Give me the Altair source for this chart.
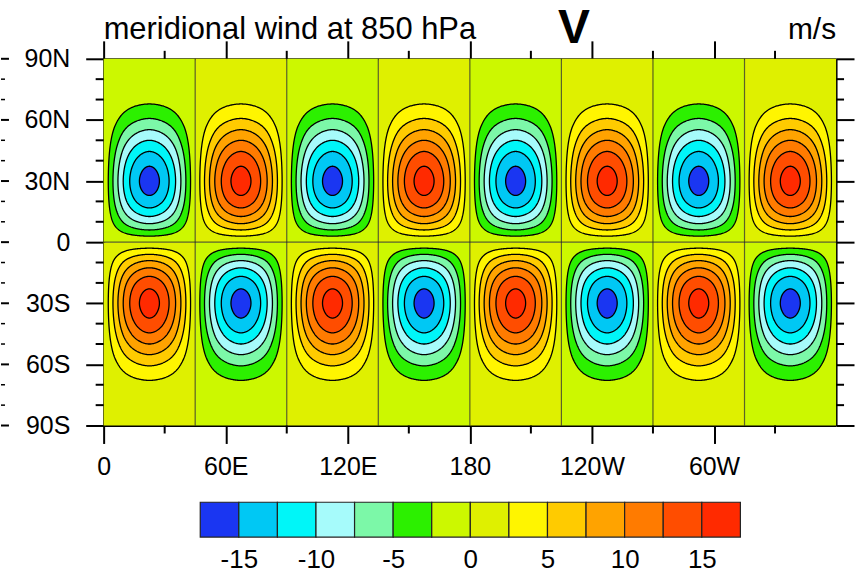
import numpy as np
import pandas as pd
import altair as alt

FONT = "Liberation Sans"

# Contour levels (m/s) and the 14 fill colours between them
levels = [-15, -12.5, -10, -7.5, -5, -2.5, 0, 2.5, 5, 7.5, 10, 12.5, 15]
band_colors = ["#1a36f2", "#00c8f4", "#00f6f8", "#a6fbfb", "#7cf8a8", "#2cf000",
               "#ccf800", "#dff000", "#fff500", "#ffcb00", "#ffa300", "#ff7b00",
               "#ff4d00", "#ff2a00"]

# |v| along the centre line of a cell (m/s), equator to pole every 5 degrees
profile_lat = [0, 5, 10, 15, 20, 25, 30, 35, 40, 45, 50, 55, 60, 65, 70, 75, 80, 85, 90]
profile_v = [0.0, 4.2, 8.2, 11.5, 14.0, 15.5, 16.0, 15.5, 14.2, 12.3, 10.0,
             7.6, 5.3, 3.4, 1.9, 0.8, 0.25, 0.03, 0.0]

# relative amplitude across one 45-degree column
cell_lon = [0, 5.625, 11.25, 16.875, 22.5, 28.125, 33.75, 39.375, 45]
cell_shape = [0.0, 0.38, 0.71, 0.92, 1.0, 0.92, 0.71, 0.38, 0.0]

# sign of v in each column of the northern hemisphere (reversed in the south)
north_sign = [-1, 1, -1, 1, -1, 1, -1, 1]

lat_ticks = [-90, -60, -30, 0, 30, 60, 90]
lat_minor = [-80, -70, -50, -40, -20, -10, 10, 20, 40, 50, 70, 80]
lon_ticks = [0, 60, 120, 180, 240, 300]
lon_minor = [30, 90, 150, 210, 270, 330]
cbar_labels = [-15, -10, -5, 0, 5, 10, 15]


def spline(xs, ys, xq, lo_pad, hi_pad):
    """Catmull-Rom curve through evenly spaced samples."""
    xs = np.asarray(xs, float)
    yy = np.concatenate([[lo_pad], np.asarray(ys, float), [hi_pad]])
    h = xs[1] - xs[0]
    s = (np.asarray(xq, float) - xs[0]) / h
    i = np.clip(np.floor(s).astype(int), 0, len(xs) - 2)
    t = s - i
    p0, p1, p2, p3 = yy[i], yy[i + 1], yy[i + 2], yy[i + 3]
    return 0.5 * (2 * p1 + (p2 - p0) * t + (2 * p0 - 5 * p1 + 4 * p2 - p3) * t ** 2
                  + (3 * p1 - p0 - 3 * p2 + p3) * t ** 3)


def merid(phi):
    return spline(profile_lat, profile_v, phi, -profile_v[1], -profile_v[-2])


def zonal(u):
    return spline(cell_lon, cell_shape, u, -cell_shape[1], -cell_shape[-2])


phi_f = np.linspace(0, 90, 3601)
F = merid(phi_f)
ip = int(np.argmax(F))
Fmax = F[ip]
phi_low, F_low = phi_f[:ip + 1], np.maximum.accumulate(F[:ip + 1])
phi_up, F_up = phi_f[ip:][::-1], np.maximum.accumulate(F[ip:][::-1])

u_f = np.linspace(0, 45, 1801)
G = zonal(u_f)
iu = int(np.argmax(G))
Gmax = G[iu]
u_left, G_left = u_f[:iu + 1], np.maximum.accumulate(G[:iu + 1])
u_right, G_right = u_f[iu:][::-1], np.maximum.accumulate(G[iu:][::-1])

# nested filled regions |v| >= L, one closed band per cell and level
rows = []
contour_levels = [l for l in levels if 0 < l < Fmax * Gmax]
for li, L in enumerate(contour_levels):
    g_min = L / Fmax
    ua = np.interp(g_min, G_left, u_left)
    ub = np.interp(g_min, G_right, u_right)
    t = np.linspace(0, np.pi, 161)
    u = 0.5 * (ua + ub) - 0.5 * (ub - ua) * np.cos(t)
    g = np.maximum(zonal(u), 1e-6)
    target = np.minimum(L / g, Fmax)
    p_lo = np.interp(target, F_low, phi_low)
    p_hi = np.interp(target, F_up, phi_up)
    for k, s_n in enumerate(north_sign):
        for hemi, s in (("N", s_n), ("S", -s_n)):
            lo, hi = (p_lo, p_hi) if hemi == "N" else (-p_hi, -p_lo)
            idx = levels.index(L) + 1 if s > 0 else levels.index(-L)
            pid = f"{hemi}{k}"
            for lon_v, a, b in zip(45 * k + u, lo, hi):
                rows.append((li, pid, float(lon_v), float(a), float(b), band_colors[idx]))
poly_df = pd.DataFrame(rows, columns=["lev", "poly", "lon", "lat_lo", "lat_hi", "color"])

# background of each cell: the band just either side of zero
cell_rows = []
for k, s_n in enumerate(north_sign):
    for lat0, lat1, s in ((0, 90, s_n), (-90, 0, -s_n)):
        idx = levels.index(0) + 1 if s > 0 else levels.index(0)
        cell_rows.append((45 * k, 45 * (k + 1), lat0, lat1, band_colors[idx]))
cells_df = pd.DataFrame(cell_rows, columns=["lon0", "lon1", "lat0", "lat1", "color"])

zero_v = pd.DataFrame({"lon": [45, 90, 135, 180, 225, 270, 315], "y0": -90, "y1": 90})
zero_h = pd.DataFrame({"lat": [0], "x0": [0], "x1": [360]})

W, H = 735, 368
xs = alt.Scale(domain=[0, 360], nice=False, zero=False)
ys = alt.Scale(domain=[-90, 90], nice=False, zero=False)

axis_common = dict(domainColor="black", domainWidth=2, tickColor="black", tickWidth=2,
                   tickSize=18, grid=False, title=None, labelFlush=False)
lon_expr = ("datum.value == 0 ? '0' : datum.value < 180 ? datum.value + 'E' : "
            "datum.value == 180 ? '180' : (360 - datum.value) + 'W'")
lat_expr = ("datum.value == 0 ? '0' : datum.value > 0 ? datum.value + 'N' : "
            "(-datum.value) + 'S'")
bottom_axis = alt.Axis(orient="bottom", values=lon_ticks, labelExpr=lon_expr,
                       labelFont=FONT, labelFontSize=25, labelColor="black",
                       labelPadding=11, **axis_common)
left_axis = alt.Axis(orient="left", values=lat_ticks, labelExpr=lat_expr,
                     labelFont=FONT, labelFontSize=25, labelColor="black",
                     labelPadding=16, **axis_common)
top_axis = alt.Axis(orient="top", values=lon_ticks, labels=False, **axis_common)
right_axis = alt.Axis(orient="right", values=lat_ticks, labels=False, **axis_common)

background = alt.Chart(cells_df).mark_rect().encode(
    x=alt.X("lon0:Q", scale=xs, axis=bottom_axis),
    x2="lon1:Q",
    y=alt.Y("lat0:Q", scale=ys, axis=left_axis),
    y2="lat1:Q",
    color=alt.Color("color:N", scale=None),
)

bands = []
for li in range(len(contour_levels)):
    bands.append(
        alt.Chart(poly_df).transform_filter(alt.datum.lev == li)
        .mark_area(stroke="black", strokeWidth=1.3, strokeJoin="round")
        .encode(
            x=alt.X("lon:Q", scale=xs, axis=None),
            y=alt.Y("lat_lo:Q", scale=ys, axis=None),
            y2="lat_hi:Q",
            detail="poly:N",
            color=alt.Color("color:N", scale=None),
        )
    )

zero_lines_v = alt.Chart(zero_v).mark_rule(color="#222", strokeWidth=1.2, opacity=0.7).encode(
    x=alt.X("lon:Q", scale=xs, axis=None),
    y=alt.Y("y0:Q", scale=ys, axis=None),
    y2="y1:Q",
)
zero_line_h = alt.Chart(zero_h).mark_rule(color="#222", strokeWidth=1.2, opacity=0.7).encode(
    x=alt.X("x0:Q", scale=xs, axis=top_axis),
    x2="x1:Q",
    y=alt.Y("lat:Q", scale=ys, axis=right_axis),
)

# minor tick marks on all four sides
lat_minor_df = pd.DataFrame({"lat": lat_minor})
lon_minor_df = pd.DataFrame({"lon": lon_minor})
tick_style = dict(color="black", strokeWidth=2)
minor_left = alt.Chart(lat_minor_df).mark_rule(**tick_style).encode(
    y=alt.Y("lat:Q", scale=ys, axis=None), x=alt.value(-8), x2=alt.value(0))
minor_right = alt.Chart(lat_minor_df).mark_rule(**tick_style).encode(
    y=alt.Y("lat:Q", scale=ys, axis=None), x=alt.value(W), x2=alt.value(W + 8))
minor_top = alt.Chart(lon_minor_df).mark_rule(**tick_style).encode(
    x=alt.X("lon:Q", scale=xs, axis=None), y=alt.value(-8), y2=alt.value(0))
minor_bottom = alt.Chart(lon_minor_df).mark_rule(**tick_style).encode(
    x=alt.X("lon:Q", scale=xs, axis=None), y=alt.value(H), y2=alt.value(H + 8))

# tick marks of the neighbouring panel at the left edge
edge_major = alt.Chart(pd.DataFrame({"lat": lat_ticks})).mark_rule(**tick_style).encode(
    y=alt.Y("lat:Q", scale=ys, axis=None), x=alt.value(-103), x2=alt.value(-95))
edge_minor = alt.Chart(lat_minor_df).mark_rule(color="black", strokeWidth=1.5).encode(
    y=alt.Y("lat:Q", scale=ys, axis=None), x=alt.value(-103), x2=alt.value(-99))

label_df = pd.DataFrame({"t": ["meridional wind at 850 hPa", "V", "m/s"]})
title_left = alt.Chart(label_df).transform_filter(alt.datum.t == "meridional wind at 850 hPa").mark_text(
    align="left", baseline="alphabetic", font=FONT, fontSize=31, color="black").encode(
    text="t:N", x=alt.value(0), y=alt.value(-20))
title_mid = alt.Chart(label_df).transform_filter(alt.datum.t == "V").mark_text(
    align="center", baseline="alphabetic", font=FONT, fontSize=48, fontWeight="bold",
    color="black").encode(text="t:N", x=alt.value(472), y=alt.value(-16))
title_right = alt.Chart(label_df).transform_filter(alt.datum.t == "m/s").mark_text(
    align="right", baseline="alphabetic", font=FONT, fontSize=30, color="black").encode(
    text="t:N", x=alt.value(W), y=alt.value(-20))

main = alt.layer(
    background, *bands, zero_lines_v, zero_line_h,
    minor_left, minor_right, minor_top, minor_bottom, edge_major, edge_minor,
    title_left, title_mid, title_right,
).resolve_axis(x="independent", y="independent").properties(width=W, height=H)

# label bar: one box per band
cbar_df = pd.DataFrame({
    "lo": [levels[0] - 2.5] + levels,
    "hi": levels + [levels[-1] + 2.5],
    "color": band_colors,
})
cbar = alt.Chart(cbar_df).mark_rect(stroke="#222", strokeWidth=1.2).encode(
    x=alt.X("lo:Q", scale=alt.Scale(domain=[-23.76, 23.70], nice=False, zero=False),
            axis=alt.Axis(values=cbar_labels, ticks=False, domain=False, grid=False,
                          title=None, labelFont=FONT, labelFontSize=26, labelColor="black",
                          labelPadding=9, labelFlush=False, labelExpr="datum.value + ''")),
    x2="hi:Q",
    color=alt.Color("color:N", scale=None),
).properties(width=W, height=35)

chart = alt.vconcat(main, cbar, spacing=77, bounds="flush").configure_view(
    stroke=None
).properties(padding={"left": 0, "top": 4, "right": 0, "bottom": 0}, background="white")

chart.save("out.html", embed_options={"renderer": "svg", "actions": False})
